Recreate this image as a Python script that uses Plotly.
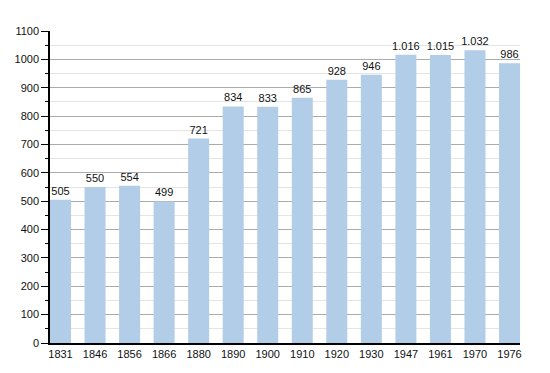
import plotly.graph_objects as go

years = ["1831", "1846", "1856", "1866", "1880", "1890", "1900", "1910",
         "1920", "1930", "1947", "1961", "1970", "1976"]
population = [505, 550, 554, 499, 721, 834, 833, 865, 928, 946, 1016, 1015, 1032, 986]
labels = ["505", "550", "554", "499", "721", "834", "833", "865", "928", "946",
          "1.016", "1.015", "1.032", "986"]

bar_w = 0.608
fig = go.Figure(go.Bar(
    x=years, y=population, text=labels, textposition="outside",
    constraintext="none",
    textfont=dict(family="Liberation Sans, Arial", size=11, color="#111"),
    cliponaxis=False, width=bar_w,
    marker=dict(color="#b1cde7", line=dict(width=0)),
))

# page body has an 8px margin, so the figure is offset by (8, 8)
fig.update_layout(
    width=542, height=365,
    margin=dict(l=42, r=30, t=23, b=30, autoexpand=False),
    plot_bgcolor="white", paper_bgcolor="white",
    showlegend=False,
    font=dict(family="Liberation Sans, Arial", size=11, color="#111"),
    xaxis=dict(type="category", range=[-bar_w / 2, len(years) - 1 + bar_w / 2],
               automargin=False,
               showline=True, linecolor="black", linewidth=1.5,
               showgrid=False, ticks="", tickfont=dict(size=11)),
    yaxis=dict(range=[0, 1100], dtick=100, tick0=0, automargin=False,
               showline=True, linecolor="black", linewidth=1.5,
               showgrid=True, gridcolor="#ababab", gridwidth=1,
               ticks="outside", ticklen=7, tickcolor="black",
               zeroline=False, tickfont=dict(size=11),
               minor=dict(dtick=50, showgrid=True, gridcolor="#e4e4e4",
                          ticks="outside", ticklen=3, tickcolor="black")),
)

fig.write_html("out.html")
